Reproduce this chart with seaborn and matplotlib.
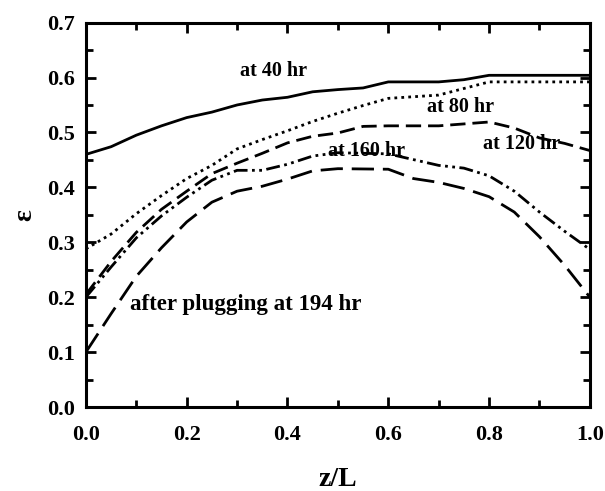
import numpy as np
import pandas as pd
import matplotlib
matplotlib.use("Agg")
import matplotlib.pyplot as plt
import seaborn as sns
from matplotlib.ticker import MultipleLocator

# ---- data ----
z_40 = [0.0, 0.05, 0.1, 0.15, 0.2, 0.25, 0.3, 0.35, 0.4, 0.45, 0.5, 0.55, 0.6, 0.7, 0.75, 0.8, 1.0]
e_40 = [0.460, 0.474, 0.495, 0.512, 0.527, 0.537, 0.550, 0.559, 0.564, 0.574, 0.578, 0.581, 0.592, 0.592, 0.596, 0.604, 0.604]

z_80 = [0.0, 0.05, 0.1, 0.15, 0.2, 0.25, 0.3, 0.35, 0.4, 0.45, 0.5, 0.55, 0.6, 0.7, 0.75, 0.8, 1.0]
e_80 = [0.288, 0.315, 0.352, 0.385, 0.416, 0.440, 0.470, 0.487, 0.503, 0.520, 0.535, 0.549, 0.562, 0.568, 0.580, 0.592, 0.592]

z_120 = [0.0, 0.05, 0.1, 0.15, 0.2, 0.25, 0.3, 0.35, 0.4, 0.45, 0.5, 0.55, 0.6, 0.7, 0.8, 0.85, 0.9, 0.95, 1.0]
e_120 = [0.205, 0.265, 0.318, 0.360, 0.393, 0.425, 0.444, 0.462, 0.481, 0.493, 0.499, 0.511, 0.512, 0.512, 0.519, 0.508, 0.490, 0.480, 0.467]

z_160 = [0.0, 0.05, 0.1, 0.15, 0.2, 0.25, 0.3, 0.35, 0.4, 0.45, 0.5, 0.6, 0.7, 0.75, 0.8, 0.85, 0.9, 0.95, 1.0]
e_160 = [0.200, 0.255, 0.308, 0.348, 0.382, 0.413, 0.431, 0.431, 0.442, 0.457, 0.463, 0.461, 0.440, 0.435, 0.421, 0.393, 0.355, 0.320, 0.287]

z_194 = [0.0, 0.05, 0.1, 0.15, 0.2, 0.25, 0.3, 0.35, 0.4, 0.45, 0.5, 0.6, 0.65, 0.7, 0.75, 0.8, 0.85, 0.9, 0.95, 1.0]
e_194 = [0.100, 0.170, 0.238, 0.290, 0.337, 0.373, 0.393, 0.402, 0.415, 0.430, 0.434, 0.433, 0.416, 0.409, 0.398, 0.383, 0.355, 0.310, 0.258, 0.200]

labels = ["at 40 hr", "at 80 hr", "at 120 hr", "at 160 hr", "after plugging at 194 hr"]
label_pos = [(0.305, 0.612), (0.677, 0.546), (0.788, 0.479), (0.481, 0.467), (0.088, 0.186)]
label_size = [14.5, 14.5, 14.5, 14.5, 16.5]

x_ticks = [0.0, 0.2, 0.4, 0.6, 0.8, 1.0]
y_ticks = [0.0, 0.1, 0.2, 0.3, 0.4, 0.5, 0.6, 0.7]

sns.set_style("ticks")
plt.rcParams["font.family"] = ["Liberation Serif", "DejaVu Serif"]
plt.rcParams["font.weight"] = "bold"
plt.rcParams["axes.edgecolor"] = "black"
plt.rcParams["xtick.color"] = "black"
plt.rcParams["ytick.color"] = "black"
plt.rcParams["text.color"] = "black"
plt.rcParams["axes.labelcolor"] = "black"

fig = plt.figure(figsize=(6.05, 4.91), dpi=100)
ax = fig.add_axes([0.142, 0.171, 0.833, 0.783])

series = [
    (z_40, e_40, None),
    (z_80, e_80, (1, 1.5)),
    (z_120, e_120, (5.5, 2.5)),
    (z_160, e_160, (5, 1.6, 1, 1.6, 1, 1.6)),
    (z_194, e_194, (8, 3.2)),
]
for z, e, dash in series:
    df = pd.DataFrame({"z": z, "e": e})
    sns.lineplot(data=df, x="z", y="e", ax=ax, color="black", linewidth=2.0)
    l = ax.get_lines()[-1]
    if dash is not None:
        l.set_dashes(dash)
        l.set_dash_capstyle("butt")

for txt, (tx, ty), fs in zip(labels, label_pos, label_size):
    ax.text(tx, ty, txt, fontsize=fs, fontweight="bold", ha="left", va="center",
            color="black", family=["Liberation Serif", "DejaVu Serif"])

ax.set_xlim(0, 1.0)
ax.set_ylim(0, 0.7)
ax.set_xticks(x_ticks)
ax.set_xticklabels([f"{v:.1f}" for v in x_ticks])
ax.set_yticks(y_ticks)
ax.set_yticklabels([f"{v:.1f}" for v in y_ticks])
ax.xaxis.set_minor_locator(MultipleLocator(0.1))
ax.yaxis.set_minor_locator(MultipleLocator(0.05))
ax.tick_params(which="both", direction="in", top=True, right=True, width=2, color="black")
ax.tick_params(which="major", length=7, labelsize=16, labelcolor="black")
ax.tick_params(axis="x", which="major", pad=13)
ax.tick_params(axis="y", which="major", pad=8)
ax.tick_params(which="minor", length=5)
for lab in ax.get_xticklabels() + ax.get_yticklabels():
    lab.set_fontweight("bold")
for sp in ax.spines.values():
    sp.set_linewidth(2.2)
    sp.set_color("black")
    sp.set_visible(True)

ax.set_xlabel("z/L", fontsize=20, fontweight="bold", labelpad=16, color="black")
ax.set_ylabel("ε", fontsize=20, fontweight="bold", labelpad=7, color="black")

fig.savefig("out.png", dpi=100)
